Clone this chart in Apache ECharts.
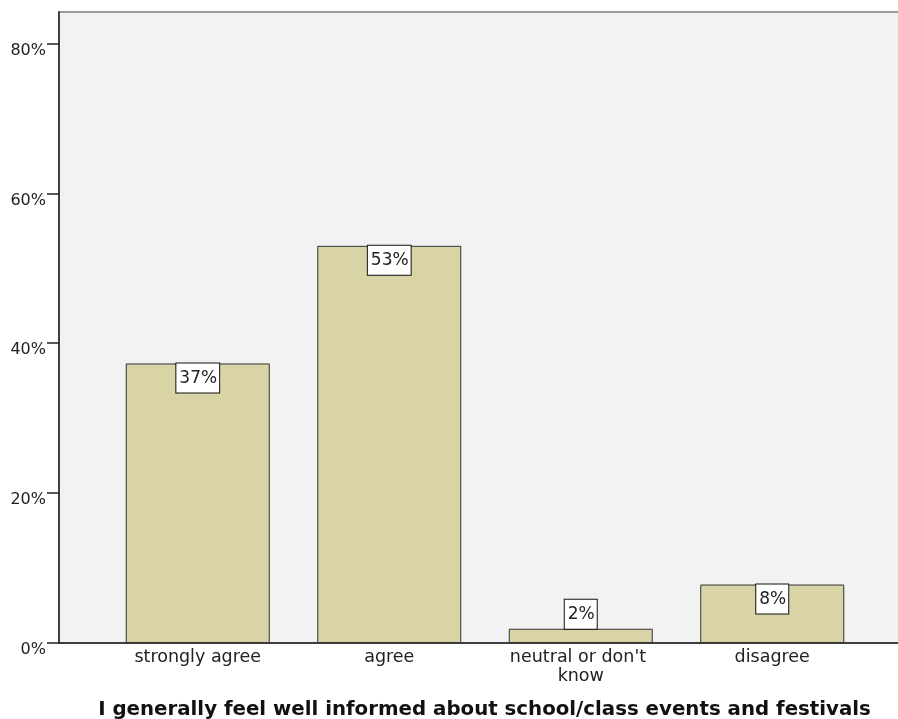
<!DOCTYPE html>
<html>
<head>
<meta charset="utf-8">
<script src="https://cdn.jsdelivr.net/npm/echarts@6/dist/echarts.min.js"></script>
<style>
html,body{margin:0;padding:0;background:#fff;}
#chart{width:898px;height:719px;}
</style>
</head>
<body>
<div id="chart"></div>
<script>
const categories = ['strongly agree', 'agree', "neutral or don't know", 'disagree'];
const percentValues = [37.3, 53.0, 1.9, 7.8];
const labelPositions = ['insideTop', 'insideTop', 'top', 'insideTop'];
const yTickValues = [0, 20, 40, 60, 80];
const axisTitle = 'I generally feel well informed about school/class events and festivals';

const FONT = 'DejaVu Sans';
const yMax = 84.2;

const chart = echarts.init(document.getElementById('chart'), null, {renderer: 'canvas'});
chart.setOption({
  animation: false,
  backgroundColor: '#ffffff',
  grid: [
    {left: 59, right: -12, top: 12, bottom: 76, show: true, containLabel: false, outerBoundsMode: 'none',
     backgroundColor: '#f2f2f2', borderColor: '#9a9a9a', borderWidth: 2},
    {left: 102, width: 766, top: 12, bottom: 76, show: false, containLabel: false, outerBoundsMode: 'none'}
  ],
  xAxis: [
    {type: 'category', gridIndex: 0, data: [''],
     axisLine: {show: true, lineStyle: {color: '#222', width: 1.5}},
     axisTick: {show: false}, axisLabel: {show: false}, splitLine: {show: false},
     name: axisTitle, nameLocation: 'middle', nameGap: 57,
     nameTextStyle: {fontFamily: FONT, fontWeight: 'bold', fontSize: 19.8, color: '#111'}},
    {type: 'category', gridIndex: 1, data: categories,
     axisLine: {show: false}, axisTick: {show: false}, splitLine: {show: false},
     axisLabel: {fontFamily: FONT, fontSize: 17.5, color: '#222', margin: 5,
                 width: 150, overflow: 'break', lineHeight: 19, interval: 0}}
  ],
  yAxis: [
    {type: 'value', gridIndex: 0, min: 0, max: yMax,
     axisLine: {show: true, lineStyle: {color: '#222', width: 1.5}},
     axisTick: {show: true, length: 12, customValues: yTickValues, lineStyle: {color: '#222', width: 1.5}},
     axisLabel: {fontFamily: FONT, fontSize: 16, color: '#222', margin: 13,
                 customValues: yTickValues, formatter: '{value}%',
                 verticalAlign: 'top', lineHeight: 14},
     splitLine: {show: false}},
    {type: 'value', gridIndex: 1, min: 0, max: yMax, show: false}
  ],
  series: [{
    type: 'bar', xAxisIndex: 1, yAxisIndex: 1, barWidth: 144,
    data: percentValues.map((v, i) => ({
      value: v,
      label: {position: labelPositions[i]}
    })),
    itemStyle: {color: '#d8d4a6', borderColor: '#333', borderWidth: 1},
    label: {
      show: true, distance: 0,
      formatter: p => Math.round(p.value) + '%',
      fontFamily: FONT, fontSize: 17, color: '#222', lineHeight: 20,
      backgroundColor: '#ffffff', borderColor: '#111', borderWidth: 1,
      padding: [5, 2, 4, 3]
    }
  }]
});
</script>
</body>
</html>
